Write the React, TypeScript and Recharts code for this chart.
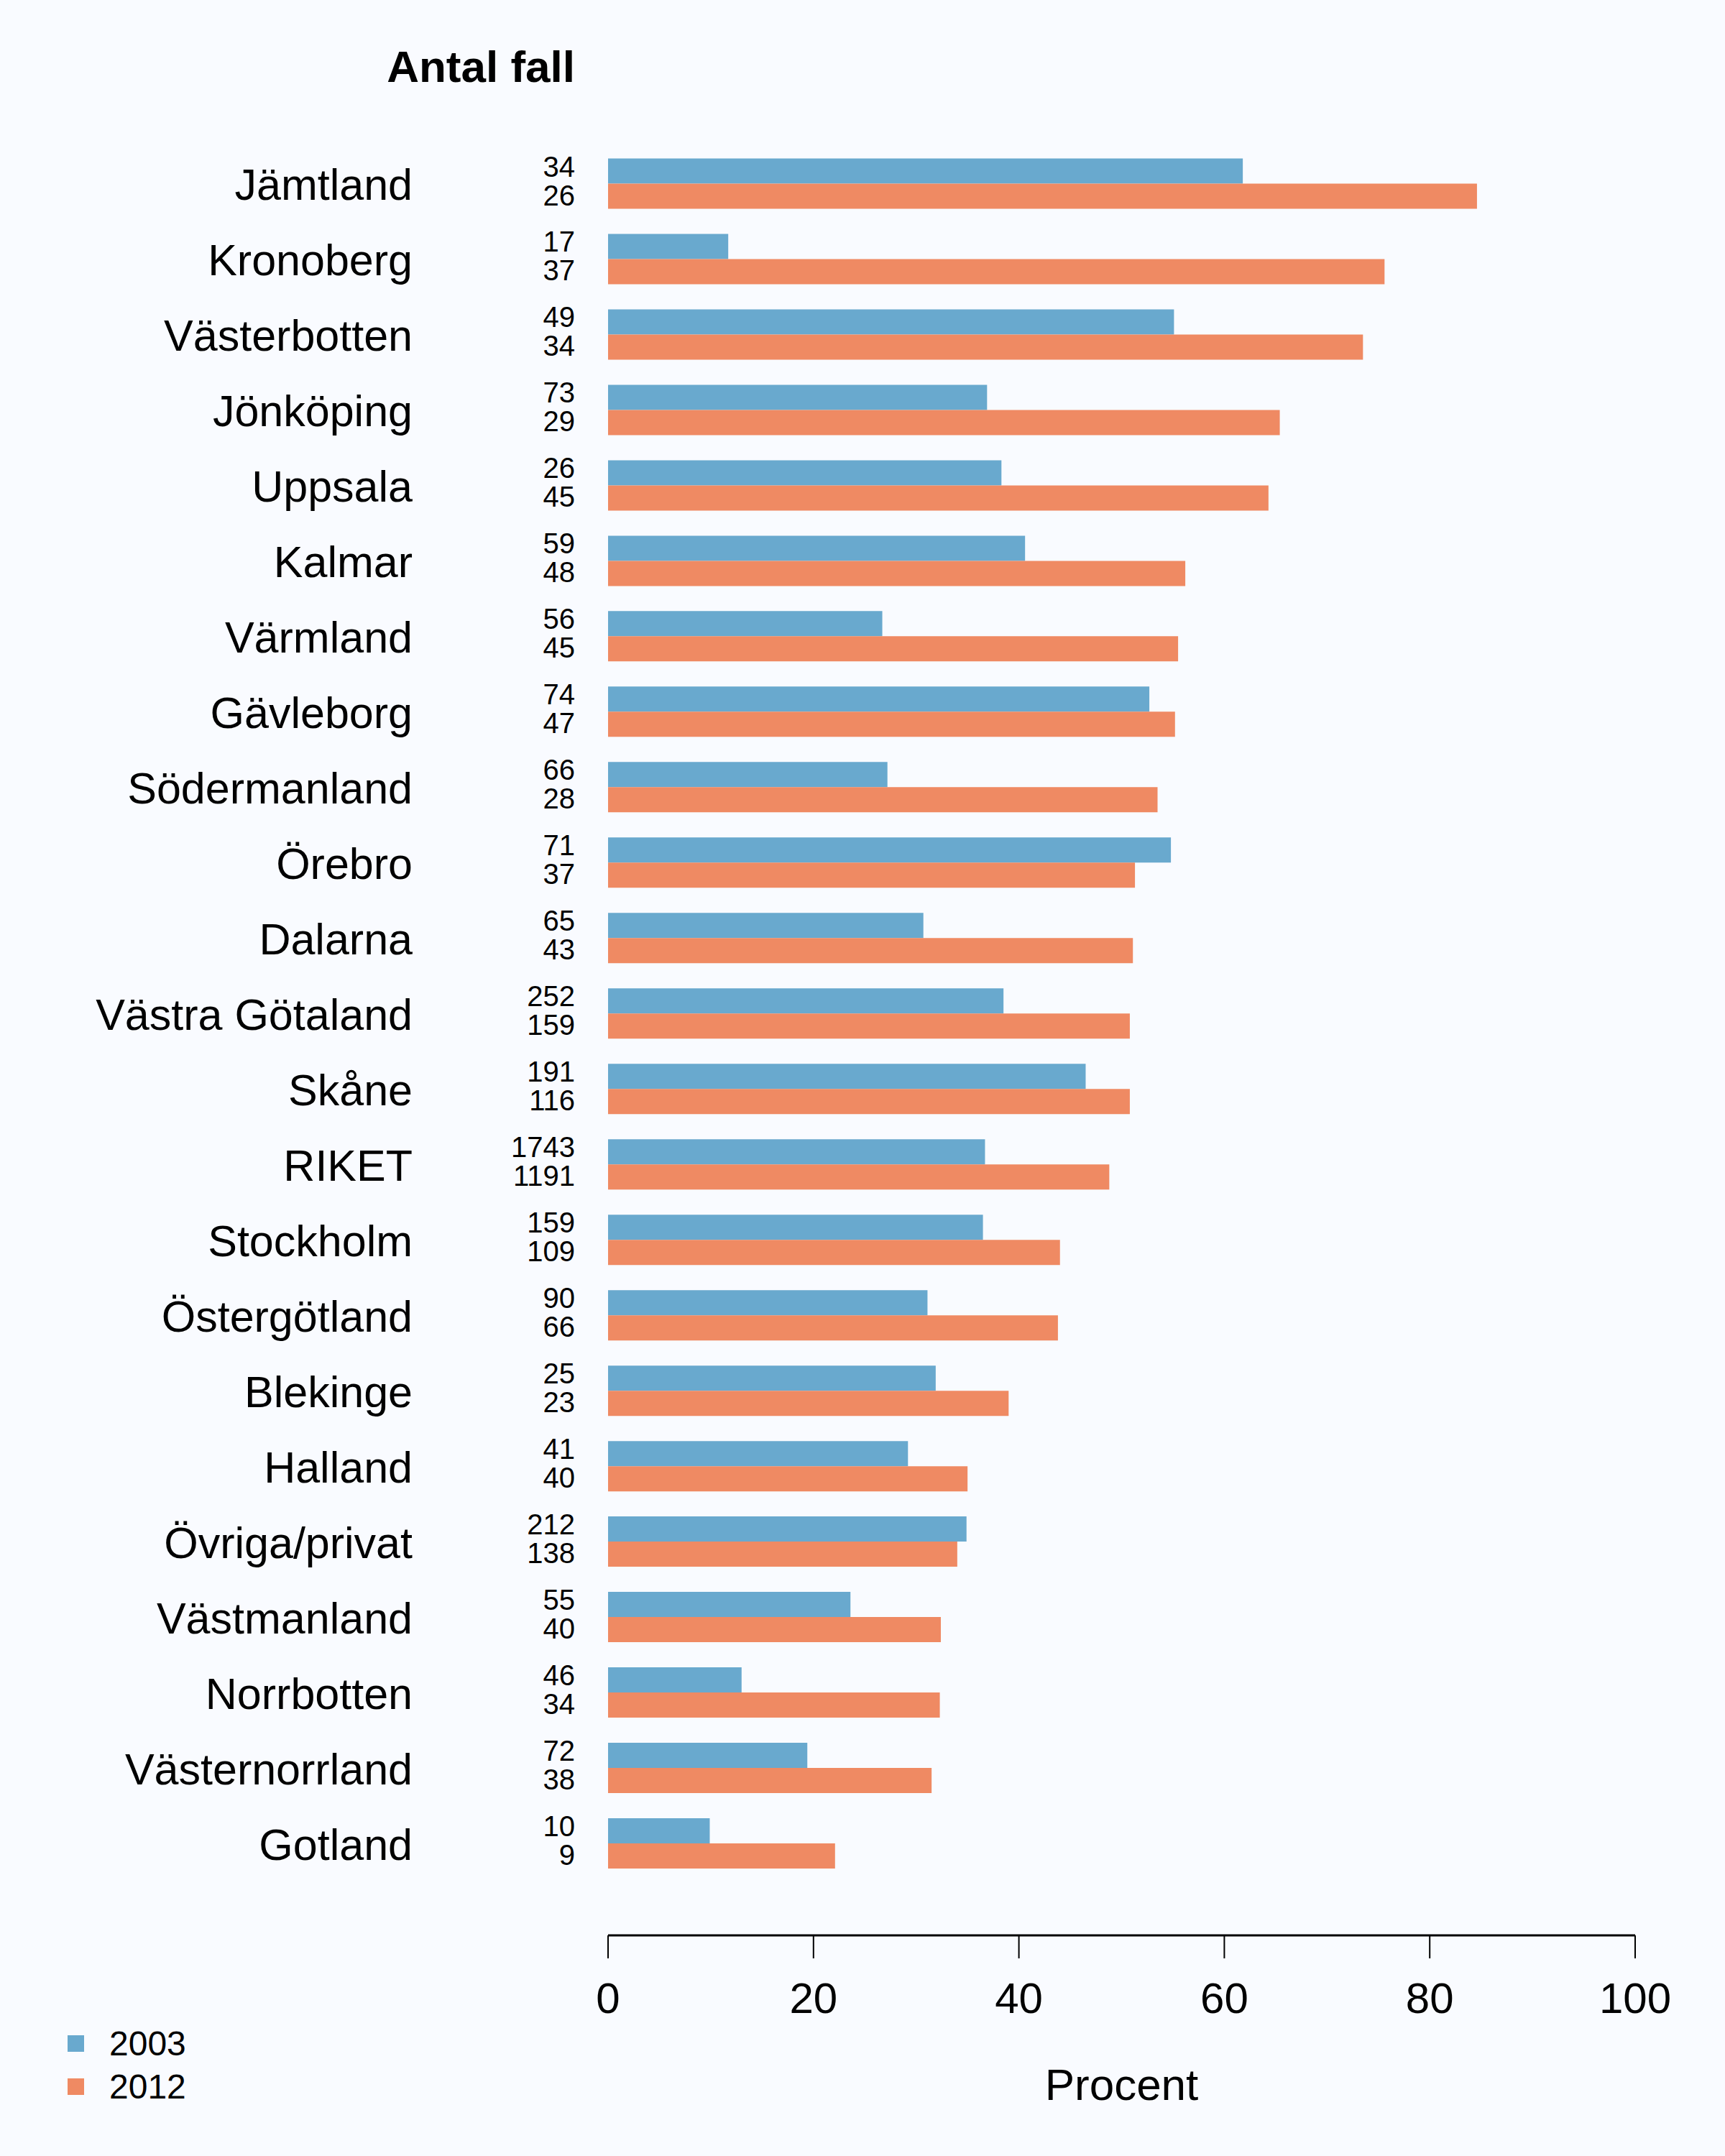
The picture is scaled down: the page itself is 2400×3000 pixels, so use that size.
import { BarChart, Bar, XAxis, YAxis, LabelList } from 'recharts'

const regions = [
  'Jämtland', 'Kronoberg', 'Västerbotten', 'Jönköping', 'Uppsala', 'Kalmar',
  'Värmland', 'Gävleborg', 'Södermanland', 'Örebro', 'Dalarna', 'Västra Götaland',
  'Skåne', 'RIKET', 'Stockholm', 'Östergötland', 'Blekinge', 'Halland',
  'Övriga/privat', 'Västmanland', 'Norrbotten', 'Västernorrland', 'Gotland',
]
const pct2003 = [
  61.8, 11.7, 55.1, 36.9, 38.3, 40.6, 26.7, 52.7, 27.2, 54.8, 30.7, 38.5,
  46.5, 36.7, 36.5, 31.1, 31.9, 29.2, 34.9, 23.6, 13.0, 19.4, 9.9,
]
const pct2012 = [
  84.6, 75.6, 73.5, 65.4, 64.3, 56.2, 55.5, 55.2, 53.5, 51.3, 51.1, 50.8,
  50.8, 48.8, 44.0, 43.8, 39.0, 35.0, 34.0, 32.4, 32.3, 31.5, 22.1,
]
const n2003 = [
  34, 17, 49, 73, 26, 59, 56, 74, 66, 71, 65, 252,
  191, 1743, 159, 90, 25, 41, 212, 55, 46, 72, 10,
]
const n2012 = [
  26, 37, 34, 29, 45, 48, 45, 47, 28, 37, 43, 159,
  116, 1191, 109, 66, 23, 40, 138, 40, 34, 38, 9,
]
const xTicks = [0, 20, 40, 60, 80, 100]
const years = ['2003', '2012']

const BLUE = '#69a9ce'
const ORANGE = '#ef8a63'
const FONT = '"Liberation Sans", Arial, Helvetica, sans-serif'

const data = regions.map((r, i) => ({
  region: r,
  p2003: pct2003[i],
  p2012: pct2012[i],
  n2003: n2003[i],
  n2012: n2012[i],
}))

function RegionTick(props: any) {
  const { x, y, payload } = props
  return (
    <text x={x} y={y + 22} textAnchor="end" fontSize={61} fill="#000" fontFamily={FONT}>
      {payload.value}
    </text>
  )
}

// antal fall to the left of each bar
function countLabel(shift: number) {
  return (props: any) => {
    const { x, y, height, value } = props
    return (
      <text x={x - 46} y={y + height / 2 + shift} textAnchor="end" fontSize={40} fill="#000" fontFamily={FONT}>
        {value}
      </text>
    )
  }
}

export default function App() {
  const colors = [BLUE, ORANGE]
  return (
    <div style={{ position: 'relative', width: 2400, height: 3000, background: '#f9fbff', fontFamily: FONT }}>
      <style>{'body{margin:0}'}</style>
      <div
        style={{
          position: 'absolute', left: 0, top: 62, width: 800, textAlign: 'right',
          fontSize: 62, lineHeight: '62px', fontWeight: 'bold', color: '#000',
        }}
      >
        Antal fall
      </div>
      <div style={{ position: 'absolute', left: 94, top: 2813.5 }}>
        {years.map((yr, i) => (
          <div key={yr} style={{ display: 'flex', alignItems: 'center', height: 60 }}>
            <div style={{ width: 23, height: 23, background: colors[i] }} />
            <span style={{ marginLeft: 35, fontSize: 48, lineHeight: '48px', color: '#000' }}>{yr}</span>
          </div>
        ))}
      </div>
      <BarChart
        width={2400}
        height={3000}
        data={data}
        layout="vertical"
        barGap={0}
        barSize={35}
        margin={{ top: 203.5, right: 125, bottom: 0, left: 546 }}
      >
        <XAxis
          type="number"
          domain={[0, 100]}
          ticks={xTicks}
          height={307}
          tickSize={32}
          tickMargin={33}
          axisLine={{ stroke: '#000', strokeWidth: 3 }}
          tickLine={{ stroke: '#000', strokeWidth: 2 }}
          tick={{ fontSize: 60, fill: '#000', fontFamily: FONT }}
          label={{ value: 'Procent', position: 'insideBottom', offset: 78, fontSize: 62, fill: '#000' }}
        />
        <YAxis
          type="category"
          dataKey="region"
          width={300}
          padding={{ top: 0, bottom: 75 }}
          axisLine={false}
          tickLine={false}
          tickSize={0}
          tickMargin={272}
          interval={0}
          tick={<RegionTick />}
        />
        <Bar dataKey="p2003" name="2003" fill={BLUE} isAnimationActive={false}>
          <LabelList dataKey="n2003" content={countLabel(7.5)} />
        </Bar>
        <Bar dataKey="p2012" name="2012" fill={ORANGE} isAnimationActive={false}>
          <LabelList dataKey="n2012" content={countLabel(12.5)} />
        </Bar>
      </BarChart>
    </div>
  )
}
